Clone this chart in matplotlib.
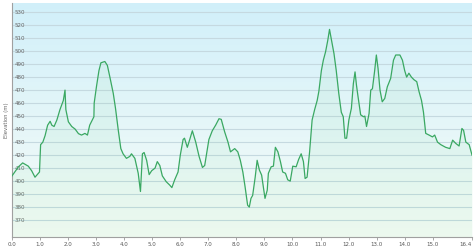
import numpy as np
import matplotlib
matplotlib.use('Agg')
import matplotlib.pyplot as plt

# distance along route (km) and elevation (m)
dist = [0.0, 0.1, 0.23, 0.38, 0.58, 0.7, 0.82, 0.9, 0.98, 1.02, 1.1, 1.18, 1.27, 1.36,
        1.42, 1.5, 1.6, 1.71, 1.83, 1.89, 1.92, 2.01, 2.13, 2.25, 2.37, 2.48, 2.6, 2.69,
        2.77, 2.86, 2.92, 2.93, 3.01, 3.1, 3.17, 3.31, 3.4, 3.49, 3.61, 3.69, 3.79, 3.88,
        3.96, 4.08, 4.2, 4.26, 4.38, 4.5, 4.58, 4.65, 4.71, 4.8, 4.89, 4.98, 5.1, 5.18,
        5.27, 5.36, 5.5, 5.62, 5.7, 5.8, 5.92, 6.0, 6.1, 6.15, 6.25, 6.33, 6.43, 6.55,
        6.67, 6.79, 6.87, 6.95, 7.02, 7.14, 7.26, 7.38, 7.46, 7.58, 7.7, 7.79, 7.94, 8.05,
        8.14, 8.23, 8.31, 8.4, 8.46, 8.52, 8.58, 8.67, 8.74, 8.82, 8.9, 9.02, 9.1, 9.14,
        9.24, 9.32, 9.39, 9.48, 9.57, 9.65, 9.75, 9.83, 9.92, 10.01, 10.13, 10.22, 10.31,
        10.39, 10.45, 10.52, 10.61, 10.7, 10.79, 10.88, 10.94, 11.03, 11.1, 11.18, 11.26,
        11.32, 11.39, 11.48, 11.56, 11.65, 11.74, 11.81, 11.87, 11.93, 12.01, 12.1, 12.17,
        12.23, 12.28, 12.33, 12.43, 12.53, 12.58, 12.64, 12.73, 12.79, 12.85, 12.93, 12.99,
        13.05, 13.12, 13.2, 13.29, 13.38, 13.5, 13.6, 13.68, 13.83, 13.92, 14.0, 14.07,
        14.15, 14.24, 14.33, 14.43, 14.51, 14.6, 14.67, 14.75, 14.87, 14.99, 15.07, 15.17,
        15.29, 15.46, 15.61, 15.71, 15.82, 15.94, 16.04, 16.1, 16.18, 16.3, 16.4]
elev = [404, 407, 411, 414, 411.5, 408, 403, 405, 407, 428, 430, 435, 443, 446,
        443, 442, 447, 455, 462, 470, 455, 445.6, 442, 440, 436.5, 435.4, 436.7, 435.4,
        443, 447, 449.5, 460, 472.5, 485, 491, 492, 489, 480, 467.5, 456, 439, 425,
        421, 417.5, 419, 421, 417.5, 406, 392, 421, 422, 416, 405, 408, 410, 415,
        412, 404, 399.5, 397, 395, 401, 407, 420, 432, 433, 426, 431.5, 438.7, 430,
        419, 410.5, 412, 422.5, 432, 438.7, 443, 448, 447.5, 438, 430, 422.5, 425, 422.5,
        416, 407, 395.6, 381.5, 380, 386.7, 389, 403, 416, 408.5, 404.6, 386.7, 393, 406,
        411, 411.5, 426, 422.5, 415, 407, 406, 401, 400, 411.5, 411, 416.7, 421,
        415, 402, 403, 422.5, 447, 455, 462, 469, 485, 493, 499.5, 508.5,
        516.7, 508.5, 498, 485, 467.5, 453, 449.5, 433, 433, 447, 456, 475,
        484, 474, 466, 451, 449.5, 450, 442, 452, 470, 471, 485, 497,
        486.7, 470, 461, 463.6, 472.5, 479, 493, 497, 497, 493, 485, 480,
        483, 480, 478, 476.5, 469, 462, 453, 436.7, 435.4, 434, 435.4, 430,
        428, 426, 425, 431.5, 429, 427, 440.5, 439, 430, 428, 420]

yticks = list(range(370, 531, 10))
xticks = [float(i) for i in range(16)] + [16.4]
xtick_labels = [f'{t:.1f}' for t in xticks]

fig = plt.figure(figsize=(4.74, 2.48), dpi=100)
ax = fig.add_axes([12 / 474, 11 / 248, 460 / 474, 234 / 248])
ymin, ymax = 357, 537
ax.set_xlim(0, 16.4)
ax.set_ylim(ymin, ymax)

# background gradient: light cyan at top fading to pale green-white
top = np.array([0.82, 0.94, 0.98])
bot = np.array([0.97, 0.99, 0.97])
t = np.linspace(0, 1, 256)[:, None]
grad = top * (1 - t) + bot * t
ax.imshow(grad[:, None, :], extent=[0, 16.4, ymin, ymax], aspect='auto',
          origin='upper', zorder=0)

for y in yticks:
    ax.axhline(y, color='#c5d9e0', lw=0.8, zorder=1)

ax.fill_between(dist, elev, ymin, color='#7fd89a', alpha=0.09, lw=0, zorder=2)
ax.plot(dist, elev, color='#3aa862', lw=0.9, zorder=3)

ax.set_yticks(yticks)
ax.set_yticklabels([str(y) for y in yticks])
ax.tick_params(axis='y', length=0, pad=-2, labelsize=4, labelcolor='#666666')
for lab in ax.get_yticklabels():
    lab.set_horizontalalignment('left')

ax.set_xticks(xticks)
ax.set_xticklabels(xtick_labels)
ax.tick_params(axis='x', length=2, width=0.6, color='#999999', pad=1.5,
               labelsize=4, labelcolor='#555555')
ax.get_xticklabels()[-1].set_horizontalalignment('right')

ax.set_ylabel('Elevation (m)', fontsize=3.8, color='#666666', labelpad=2)

for s in ['top', 'right']:
    ax.spines[s].set_visible(False)
ax.spines['left'].set_color('#a0a0a0')
ax.spines['bottom'].set_color('#a0a0a0')

fig.savefig('out.png', dpi=100)
